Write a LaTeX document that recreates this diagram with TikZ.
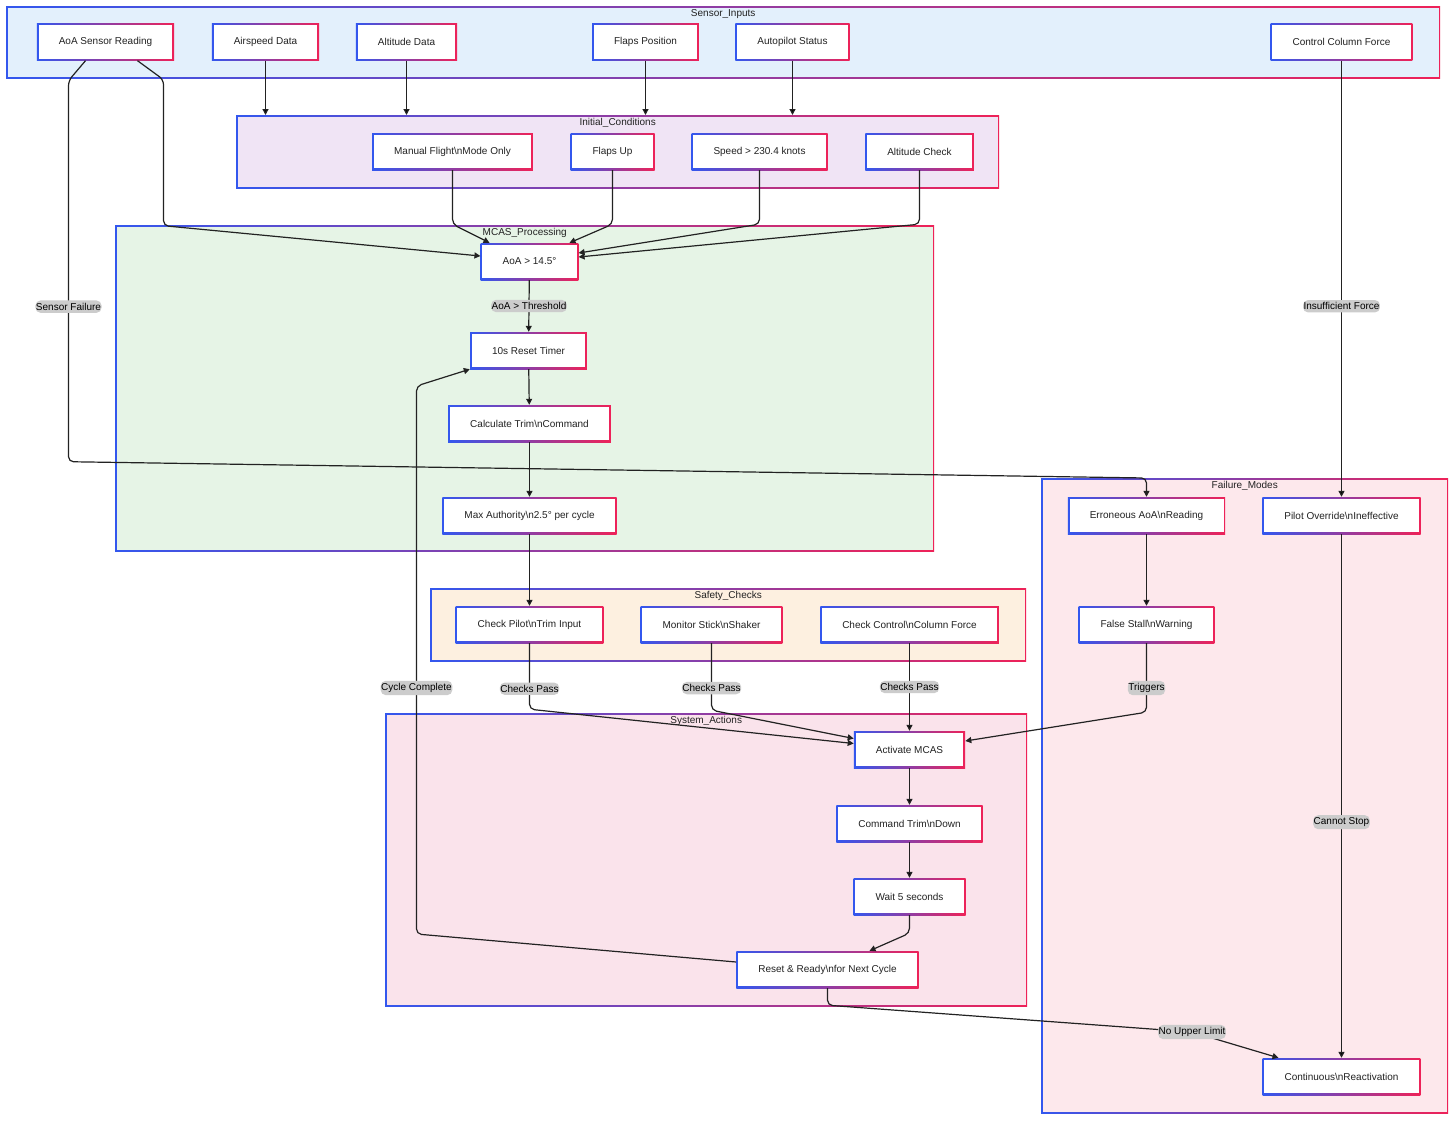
\documentclass[tikz,border=0pt]{standalone}
\usepackage{fontspec}
\setmainfont{Liberation Sans}
\usetikzlibrary{arrows.meta,
                quotes}

\definecolor{gblue}{HTML}{3357EE}
\definecolor{gred}{HTML}{EE2258}
\definecolor{sensorfill}{HTML}{E3F0FC}
\definecolor{initfill}{HTML}{F0E4F5}
\definecolor{mcasfill}{HTML}{E6F4E6}
\definecolor{safefill}{HTML}{FDF0E0}
\definecolor{sysfill}{HTML}{FAE3EB}
\definecolor{failfill}{HTML}{FDE8EC}
\definecolor{ink}{HTML}{222222}

\begin{document}
\begin{tikzpicture}[
    x=1pt, y=-1pt,
    font=\fontsize{10}{12}\selectfont, text=ink,
 gradframe/.style = {path picture={
                     \shade[left color=gblue, right color=gred]
                       (path picture bounding box.south west) rectangle
                       (path picture bounding box.north east);
                     \fill[#1]
                       ([shift={(1.7pt,1.7pt)}]path picture bounding box.south west) rectangle
                       ([shift={(-1.7pt,-1.7pt)}]path picture bounding box.north east);}},
       box/.style = {rectangle, gradframe=white, minimum height=37pt, inner xsep=22pt},
     group/.style 2 args = {rectangle, gradframe=#1, anchor=north west, inner sep=0pt,
                     label={[anchor=north, inner sep=0pt, yshift=-3.5pt]north:#2}},
       lbl/.style = {fill=gray!40, inner xsep=0.5pt, inner ysep=2.5pt, text=black},
      link/.style = {draw=ink, line width=1.2pt, rounded corners=5pt,
                     -{Triangle[length=6pt,width=6pt]}},
  every edge quotes/.style = {lbl}
                    ]
\path[use as bounding box, fill=white] (0,0) rectangle (1456,1122);
% subgraphs
\node[group={sensorfill}{Sensor\_Inputs}, minimum width=1434pt, minimum height=72pt] (sensor) at (6,6) {};
\node[group={initfill}{Initial\_Conditions}, minimum width=763pt, minimum height=73pt] (init) at (236,115) {};
\node[group={mcasfill}{MCAS\_Processing}, minimum width=819pt, minimum height=326pt] (mcas) at (115,225) {};
\node[group={safefill}{Safety\_Checks}, minimum width=596pt, minimum height=73pt] (safety) at (430,588) {};
\node[group={sysfill}{System\_Actions}, minimum width=642pt, minimum height=293pt] (sys) at (385,713) {};
\node[group={failfill}{Failure\_Modes}, minimum width=407pt, minimum height=635pt] (fail) at (1041,478) {};
% sensor inputs
\node [box] (aoa)   at (105.5,42) {AoA Sensor Reading};
\node [box] (air)   at (265.5,42) {Airspeed Data};
\node [box] (alt)   at (406.5,42) {Altitude Data};
\node [box] (flaps) at (645.5,42) {Flaps Position};
\node [box] (auto)  at (792.5,42) {Autopilot Status};
\node [box] (ccf)   at (1341.5,42) {Control Column Force};
% initial conditions
\node [box] (manual)  at (452.5,151.5) {Manual Flight\textbackslash nMode Only};
\node [box] (flapsup) at (612.5,151.5) {Flaps Up};
\node [box] (speed)   at (759.5,151.5) {Speed > 230.4 knots};
\node [box] (altchk)  at (919.5,151.5) {Altitude Check};
% mcas processing
\node [box] (thr)   at (529.5,261.5) {AoA > 14.5°};
\node [box] (timer) at (528.5,350.5) {10s Reset Timer};
\node [box] (calc)  at (529.5,423.5) {Calculate Trim\textbackslash nCommand};
\node [box] (maxa)  at (529.5,515.5) {Max Authority\textbackslash n2.5° per cycle};
% safety checks
\node [box] (chkpilot) at (529.5,624.5) {Check Pilot\textbackslash nTrim Input};
\node [box] (stick)    at (711.5,624.5) {Monitor Stick\textbackslash nShaker};
\node [box] (chkcol)   at (909.5,624.5) {Check Control\textbackslash nColumn Force};
% system actions
\node [box] (act)   at (909.5,749.5) {Activate MCAS};
\node [box] (cmd)   at (909.5,823.5) {Command Trim\textbackslash nDown};
\node [box] (wait)  at (909.5,896.5) {Wait 5 seconds};
\node [box] (reset) at (827.5,969.5) {Reset \& Ready\textbackslash nfor Next Cycle};
% failure modes
\node [box] (err)   at (1146.5,515.5)  {Erroneous AoA\textbackslash nReading};
\node [box] (pov)   at (1341.5,515.5)  {Pilot Override\textbackslash nIneffective};
\node [box] (stall) at (1146.5,624.5)  {False Stall\textbackslash nWarning};
\node [box] (cont)  at (1341.5,1076.5) {Continuous\textbackslash nReactivation};
%%
\draw [link]
    (air)      edge  (air |- init.north)
    (alt)      edge  (alt |- init.north)
    (flaps)    edge  (flaps |- init.north)
    (auto)     edge  (auto |- init.north)
    (ccf)      edge["Insufficient Force" pos=0.563]  (pov)
    (thr)      edge["AoA > Threshold"]    (timer)
    (timer)    edge  (calc)
    (calc)     edge  (maxa)
    (maxa)     edge  (chkpilot)
    (chkcol)   edge["Checks Pass"]    (act)
    (act)      edge  (cmd)
    (cmd)      edge  (wait)
    (err)      edge  (stall)
    (pov)      edge["Cannot Stop" pos=0.55]  (cont);
%%
\draw [link] ([xshift=-20pt]aoa.south) -- ++(-17,20)
    -- node[lbl, pos=0.593] {Sensor Failure} ++(0,381) -- (1146.5,478) -- (err);
\draw [link] ([xshift=32pt]aoa.south) -- ++(26,19) -- ++(0,146) -- ([yshift=5.5pt]thr.west);
\draw [link] (manual.south)  -- ++(0,54) -- ([xshift=-40pt]thr.north);
\draw [link] (flapsup.south) -- ++(0,54) -- ([xshift=40pt]thr.north);
\draw [link] (speed.south)   -- ++(0,54) -- ([yshift=8.5pt]thr.east);
\draw [link] (altchk.south)  -- ++(0,54) -- ([yshift=4.5pt]thr.east);
\draw [link] (chkpilot.south) -- node[lbl, pos=0.69] {Checks Pass} ++(0,66) -- ([yshift=6pt]act.west);
\draw [link] (stick.south) -- node[lbl, pos=0.67] {Checks Pass} ++(0,67) -- ([yshift=11pt]act.west);
\draw [link] (stall.south) -- node[lbl, pos=0.65] {Triggers} ++(0,69) -- ([yshift=8.5pt]act.east);
\draw [link] (wait.south) -- ++(0,18) -- ([xshift=42pt]reset.north);
\draw [link] ([yshift=7.5pt]reset.west) -- (416.5,934)
    -- node[lbl, pos=0.449] {Cycle Complete} (416.5,386) -- (timer.south west);
\draw [link] (reset.south) -- ++(0,17) -- (1192,1032) node[lbl] {No Upper Limit}
    -- ([xshift=-63pt]cont.north);
\end{tikzpicture}
\end{document}
